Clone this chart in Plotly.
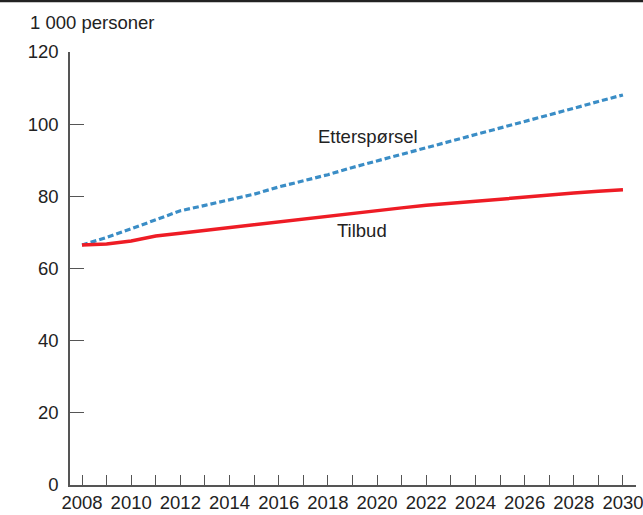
import plotly.graph_objects as go

years = list(range(2008, 2031))
etterspørsel = [66.5, 68.6, 71.0, 73.5, 76.0, 77.5, 79.0, 80.6, 82.6, 84.2, 86.0, 88.0,
                89.8, 91.7, 93.5, 95.3, 97.1, 98.9, 100.6, 102.4, 104.4, 106.3, 108.1]
tilbud = [66.5, 66.8, 67.6, 69.0, 69.8, 70.6, 71.4, 72.2, 73.0, 73.7, 74.5, 75.3,
          76.1, 76.8, 77.5, 78.1, 78.7, 79.3, 79.9, 80.4, 80.9, 81.4, 81.8]
y_ticks = [0, 20, 40, 60, 80, 100, 120]
x_ticks = list(range(2008, 2031, 2))
y_title = "1 000 personer"
labels = [("Etterspørsel", 2019.65, 96.7), ("Tilbud", 2019.4, 70.6)]

FONT = "Liberation Sans, Arial, sans-serif"
FS = 18.5
TXT = "#222222"
AX = "#555555"

fig = go.Figure()
fig.add_trace(go.Scatter(x=years, y=etterspørsel, mode="lines", name="Etterspørsel",
                         line=dict(color="#3a8dc6", width=3.2, dash="6px,3px")))
fig.add_trace(go.Scatter(x=years, y=tilbud, mode="lines", name="Tilbud",
                         line=dict(color="#ee1c25", width=3.5)))

for text, x, y in labels:
    fig.add_annotation(x=x, y=y, text=text, showarrow=False,
                       font=dict(family=FONT, size=FS, color=TXT))

fig.add_annotation(xref="paper", yref="paper", x=(28-70)/566, y=(485-22)/433,
                   text=y_title, showarrow=False, xanchor="left", yanchor="middle",
                   font=dict(family=FONT, size=FS, color=TXT))

fig.add_shape(type="line", xref="paper", yref="paper",
              x0=-70/566, x1=(643-70)/566, y0=(485-1)/433, y1=(485-1)/433,
              line=dict(color="#222222", width=2.5))

fig.update_layout(
    width=643, height=515,
    margin=dict(l=70, r=7, t=52, b=30, autoexpand=False),
    paper_bgcolor="white", plot_bgcolor="white",
    showlegend=False,
    font=dict(family=FONT, size=FS, color=TXT),
    xaxis=dict(range=[2007.512, 2030.53], tickvals=x_ticks, ticktext=[str(v) for v in x_ticks],
               ticks="inside", ticklen=10, tickwidth=1, tickcolor=AX,
               minor=dict(dtick=1, tick0=2008, ticks="inside", ticklen=10, tickwidth=1, tickcolor=AX),
               showline=True, linecolor=AX, linewidth=1.5, showgrid=False, zeroline=False,
               automargin=False, ticklabeloverflow="allow", ticklabelstandoff=0,
               tickfont=dict(family=FONT, size=FS, color=TXT)),
    yaxis=dict(range=[0, 120], tickvals=y_ticks, ticks="inside", ticklen=14, tickwidth=1,
               tickcolor=AX, showline=True, linecolor=AX, linewidth=1.5, showgrid=False,
               zeroline=False, ticklabelstandoff=6, automargin=False,
               tickfont=dict(family=FONT, size=FS, color=TXT)),
)

fig.write_html("out.html", config={"displayModeBar": False},
               post_script="document.body.style.margin='0';document.body.style.overflow='hidden';")
